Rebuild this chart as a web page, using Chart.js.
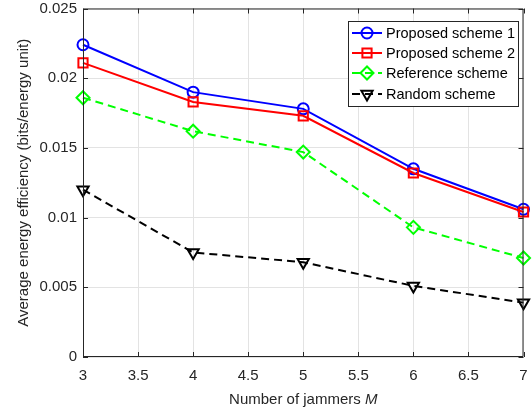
<!DOCTYPE html>
<html>
<head>
<meta charset="utf-8">
<script src="https://cdn.jsdelivr.net/npm/chart.js@4.4.1/dist/chart.umd.min.js"></script>
<style>
  html, body { margin: 0; padding: 0; background: #ffffff; }
  canvas { display: block; }
</style>
</head>
<body>
<canvas id="chart" width="532" height="413"></canvas>
<script>
// Number of jammers M
const jammers = [3, 4, 5, 6, 7];

// Average energy efficiency (bits/energy unit) per scheme
const proposedScheme1 = [0.0224, 0.0190, 0.0178, 0.0135, 0.0106];
const proposedScheme2 = [0.0211, 0.0183, 0.0173, 0.0132, 0.0104];
const referenceScheme = [0.0186, 0.0162, 0.0147, 0.0093, 0.0071];
const randomScheme    = [0.0120, 0.0075, 0.0068, 0.0051, 0.0039];

const seriesNames = ['Proposed scheme 1', 'Proposed scheme 2', 'Reference scheme', 'Random scheme'];

const xTicks = [3, 3.5, 4, 4.5, 5, 5.5, 6, 6.5, 7];
const yTicks = [0, 0.005, 0.01, 0.015, 0.02, 0.025];

const FONT = "'Liberation Sans', Arial, Helvetica, sans-serif";
const AXIS_COLOR = '#262626';
const GRID_COLOR = '#e3e3e3';

// Desired plot rectangle inside the 532x413 canvas
const AREA = { left: 83, right: 530, top: 7, bottom: 357 };

const toPoints = ys => jammers.map((x, i) => ({ x: x, y: ys[i] }));

const datasets = [
  { label: seriesNames[0], data: toPoints(proposedScheme1), borderColor: '#0000ff',
    pointStyle: 'circle', pointRadius: 5.5, pointRotation: 0, borderDash: [], order: 4 },
  { label: seriesNames[1], data: toPoints(proposedScheme2), borderColor: '#ff0000',
    pointStyle: 'rect', pointRadius: 6.5, pointRotation: 0, borderDash: [], order: 3 },
  { label: seriesNames[2], data: toPoints(referenceScheme), borderColor: '#00ff00',
    pointStyle: 'rectRot', pointRadius: 6.5, pointRotation: 0, borderDash: [8, 5], order: 2 },
  { label: seriesNames[3], data: toPoints(randomScheme), borderColor: '#000000',
    pointStyle: 'triangle', pointRadius: 6.5, pointRotation: 180, borderDash: [8, 5], order: 1 }
].map(d => Object.assign(d, {
  borderWidth: 2,
  pointBorderColor: d.borderColor,
  pointBackgroundColor: 'rgba(0,0,0,0)',
  pointBorderWidth: 2,
  tension: 0,
  fill: false,
  clip: false
}));

// Box frame, inward tick marks and axis titles
const frameAndTitles = {
  id: 'frameAndTitles',
  afterDatasetsDraw(chart) {
    const { ctx, chartArea: a, scales } = chart;
    const tl = 5;
    ctx.save();
    ctx.strokeStyle = AXIS_COLOR;
    ctx.lineWidth = 1;
    ctx.setLineDash([]);
    ctx.beginPath();
    ctx.rect(a.left + 0.5, a.top + 0.5, a.right - a.left - 1, a.bottom - a.top - 1);
    xTicks.forEach(v => {
      const px = Math.round(scales.x.getPixelForValue(v)) + 0.5;
      ctx.moveTo(px, a.bottom); ctx.lineTo(px, a.bottom - tl);
      ctx.moveTo(px, a.top); ctx.lineTo(px, a.top + tl);
    });
    yTicks.forEach(v => {
      const py = Math.round(scales.y.getPixelForValue(v)) + 0.5;
      ctx.moveTo(a.left, py); ctx.lineTo(a.left + tl, py);
      ctx.moveTo(a.right, py); ctx.lineTo(a.right - tl, py);
    });
    ctx.stroke();

    // y-axis title
    ctx.fillStyle = AXIS_COLOR;
    ctx.font = '15px ' + FONT;
    ctx.textAlign = 'center';
    ctx.textBaseline = 'middle';
    ctx.save();
    ctx.translate(24, (a.top + a.bottom) / 2);
    ctx.rotate(-Math.PI / 2);
    ctx.fillText('Average energy efficiency (bits/energy unit)', 0, 0);
    ctx.restore();

    // x-axis title with italic M
    const part1 = 'Number of jammers ';
    const part2 = 'M';
    ctx.font = '15px ' + FONT;
    const w1 = ctx.measureText(part1).width;
    ctx.font = 'italic 15px ' + FONT;
    const w2 = ctx.measureText(part2).width;
    const cx = (a.left + a.right) / 2;
    let x0 = cx - (w1 + w2) / 2;
    ctx.textAlign = 'left';
    ctx.font = '15px ' + FONT;
    ctx.fillText(part1, x0, 400);
    ctx.font = 'italic 15px ' + FONT;
    ctx.fillText(part2, x0 + w1, 400);
    ctx.restore();
  }
};

// Legend box in the upper right of the plot
const boxedLegend = {
  id: 'boxedLegend',
  afterDraw(chart) {
    const { ctx } = chart;
    const bx = 348, by = 21, bw = 170, bh = 85;
    const rowY = [33, 53, 73, 94];
    ctx.save();
    ctx.fillStyle = '#ffffff';
    ctx.fillRect(bx, by, bw, bh);
    ctx.strokeStyle = AXIS_COLOR;
    ctx.lineWidth = 1;
    ctx.strokeRect(bx + 0.5, by + 0.5, bw, bh);
    chart.data.datasets.forEach((d, i) => {
      const y = rowY[i];
      ctx.strokeStyle = d.borderColor;
      ctx.lineWidth = 2;
      ctx.setLineDash(d.borderDash);
      ctx.beginPath();
      ctx.moveTo(352, y); ctx.lineTo(382, y);
      ctx.stroke();
      ctx.setLineDash([]);
      ctx.fillStyle = 'rgba(0,0,0,0)';
      Chart.helpers.drawPoint(ctx, {
        pointStyle: d.pointStyle, radius: d.pointRadius,
        rotation: d.pointRotation, borderWidth: 2
      }, 367, y);
      ctx.fillStyle = '#000000';
      ctx.font = '14.5px ' + FONT;
      ctx.textAlign = 'left';
      ctx.textBaseline = 'middle';
      ctx.fillText(d.label, 386, y + 1);
    });
    ctx.restore();
  }
};

const whiteBackground = {
  id: 'whiteBackground',
  beforeDraw(chart) {
    const { ctx, width, height } = chart;
    ctx.save();
    ctx.fillStyle = '#ffffff';
    ctx.fillRect(0, 0, width, height);
    ctx.restore();
  }
};

const chart = new Chart(document.getElementById('chart'), {
  type: 'line',
  data: { datasets: datasets },
  options: {
    responsive: false,
    animation: false,
    devicePixelRatio: 1,
    layout: { padding: { top: AREA.top, right: 532 - AREA.right, left: 0, bottom: 0 } },
    plugins: { legend: { display: false }, tooltip: { enabled: false } },
    scales: {
      x: {
        type: 'linear',
        min: 3, max: 7,
        afterBuildTicks: s => { s.ticks = xTicks.map(v => ({ value: v })); },
        ticks: {
          font: { family: FONT, size: 15 }, color: AXIS_COLOR, padding: 10,
          maxRotation: 0, autoSkip: false,
          callback: v => String(v)
        },
        grid: { color: GRID_COLOR, drawTicks: false },
        border: { display: false },
        afterFit: s => { s.height = 413 - AREA.bottom; s.paddingLeft = 0; s.paddingRight = 0; }
      },
      y: {
        type: 'linear',
        min: 0, max: 0.025,
        afterBuildTicks: s => { s.ticks = yTicks.map(v => ({ value: v })); },
        ticks: {
          font: { family: FONT, size: 15 }, color: AXIS_COLOR, padding: 6,
          autoSkip: false,
          callback: v => String(+v.toFixed(3))
        },
        grid: { color: GRID_COLOR, drawTicks: false },
        border: { display: false },
        afterFit: s => { s.width = AREA.left; s.paddingTop = 0; s.paddingBottom = 0; }
      }
    }
  },
  plugins: [whiteBackground, frameAndTitles, boxedLegend]
});

// Nudge the layout padding so the plot rectangle lands where intended
const ca = chart.chartArea;
const pad = chart.options.layout.padding;
const dRight = ca.right - AREA.right;
const dTop = AREA.top - ca.top;
if (dRight !== 0 || dTop !== 0) {
  chart.options.layout.padding = {
    top: pad.top + dTop, right: pad.right + dRight, left: pad.left, bottom: pad.bottom
  };
  chart.update();
}
</script>
</body>
</html>
